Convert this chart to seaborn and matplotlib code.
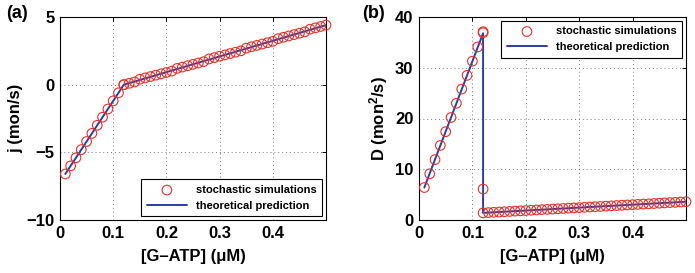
import matplotlib
matplotlib.use("Agg")
import matplotlib.pyplot as plt
import seaborn as sns
import numpy as np

# ---------------- data ----------------
x_left = [0.01, 0.02, 0.03, 0.04, 0.05, 0.06, 0.07, 0.08, 0.09, 0.10, 0.11, 0.12]
x_right = [0.12, 0.13, 0.14, 0.15, 0.16, 0.17, 0.18, 0.19, 0.20, 0.21, 0.22, 0.23,
           0.24, 0.25, 0.26, 0.27, 0.28, 0.29, 0.30, 0.31, 0.32, 0.33, 0.34, 0.35,
           0.36, 0.37, 0.38, 0.39, 0.40, 0.41, 0.42, 0.43, 0.44, 0.45, 0.46, 0.47,
           0.48, 0.49, 0.50]

# panel (a): flux j
j_sim_left = [-6.6, -6.0, -5.4, -4.8, -4.2, -3.6, -3.0, -2.4, -1.8, -1.2, -0.6, 0.0]
j_sim_right = [0.0, 0.1, 0.2, 0.4, 0.5, 0.6, 0.7, 0.8, 0.9, 1.0, 1.2, 1.3, 1.4,
               1.5, 1.6, 1.7, 1.9, 2.0, 2.1, 2.2, 2.3, 2.4, 2.5, 2.7, 2.8, 2.9,
               3.0, 3.1, 3.2, 3.4, 3.5, 3.6, 3.7, 3.8, 3.9, 4.1, 4.2, 4.3, 4.4]
j_theory_x = [0.01, 0.12, 0.50]
j_theory_y = [-6.6, 0.0, 4.4]

# panel (b): diffusion D
D_sim_left = [6.4, 9.1, 11.9, 14.7, 17.4, 20.2, 23.0, 25.8, 28.5, 31.3, 34.1, 36.9]
D_sim_extra_x = [0.12, 0.12]
D_sim_extra = [37.1, 6.1]
D_sim_right = [1.40, 1.46, 1.52, 1.57, 1.63, 1.69, 1.75, 1.81, 1.86, 1.92, 1.98,
               2.04, 2.09, 2.15, 2.21, 2.27, 2.33, 2.38, 2.44, 2.50, 2.56, 2.62,
               2.67, 2.73, 2.79, 2.85, 2.91, 2.96, 3.02, 3.08, 3.14, 3.19, 3.25,
               3.31, 3.37, 3.43, 3.48, 3.54, 3.60]
D_theory_x = [0.01, 0.12, 0.12, 0.50]
D_theory_y = [6.4, 36.8, 1.4, 3.6]

x_ticks = [0, 0.1, 0.2, 0.3, 0.4]
x_ticklabels = ["0", "0.1", "0.2", "0.3", "0.4"]
ja_ticks = [-10, -5, 0, 5]
Db_ticks = [0, 10, 20, 30, 40]

# ---------------- style ----------------
sns.set_style("white")
plt.rcParams['font.family'] = ['Liberation Sans', 'DejaVu Sans']
plt.rcParams['font.weight'] = 'bold'
plt.rcParams['mathtext.fontset'] = 'custom'
plt.rcParams['mathtext.rm'] = 'Liberation Sans:bold'
plt.rcParams['mathtext.it'] = 'Liberation Sans:bold'
plt.rcParams['mathtext.bf'] = 'Liberation Sans:bold'
for key in ('text.color', 'axes.labelcolor', 'xtick.color', 'ytick.color'):
    plt.rcParams[key] = 'black'

RED = '#e8302a'
BLUE = '#2b3da6'

fig = plt.figure(figsize=(6.95, 2.73), dpi=100)
axA = fig.add_axes([60/695, 53/273, 266/695, 203/273])
axB = fig.add_axes([419/695, 53/273, 267/695, 203/273])


def style_axes(ax):
    ax.set_xlim(0, 0.5)
    ax.set_xticks(x_ticks)
    ax.set_xticklabels(x_ticklabels)
    ax.grid(True, linestyle=(0, (1, 3)), color='#777777', linewidth=0.7)
    ax.tick_params(direction='in', top=True, right=True, length=3, width=0.7,
                   labelsize=12, pad=4, colors='black')
    for lab in ax.get_xticklabels() + ax.get_yticklabels():
        lab.set_fontweight('bold')
    for s in ax.spines.values():
        s.set_linewidth(0.8)
        s.set_color('black')
    ax.set_xlabel('[G\u2013ATP] (\u03bcM)', fontsize=12, fontweight='bold', labelpad=6)


def draw(ax, sx, sy, tx, ty):
    sns.lineplot(x=tx, y=ty, ax=ax, color=BLUE, linewidth=1.4, sort=False,
                 estimator=None, label='theoretical prediction', zorder=2)
    sns.scatterplot(x=sx, y=sy, ax=ax, marker='o', s=48, facecolors='none',
                    edgecolor=RED, linewidth=0.8, label='stochastic simulations',
                    zorder=3, clip_on=False)


# panel (a)
draw(axA, x_left + x_right, j_sim_left + j_sim_right, j_theory_x, j_theory_y)
axA.set_ylim(-10, 5)
axA.set_yticks(ja_ticks)
axA.set_yticklabels(['\u221210', '\u22125', '0', '5'])
style_axes(axA)
axA.set_ylabel('j (mon/s)', fontsize=12, fontweight='bold', labelpad=2)

# panel (b)
draw(axB, x_left + D_sim_extra_x + x_right, D_sim_left + D_sim_extra + D_sim_right,
     D_theory_x, D_theory_y)
axB.set_ylim(0, 40)
axB.set_yticks(Db_ticks)
style_axes(axB)
axB.set_ylabel('D (mon$^2$/s)', fontsize=12, fontweight='bold', labelpad=4)

for ax, loc in ((axA, 'lower right'), (axB, 'upper right')):
    h, l = ax.get_legend_handles_labels()
    order = [l.index('stochastic simulations'), l.index('theoretical prediction')]
    leg = ax.legend([h[i] for i in order], [l[i] for i in order], loc=loc,
                    fancybox=False, edgecolor='black', framealpha=1,
                    prop={'size': 8, 'weight': 'bold'}, handlelength=3.6,
                    handletextpad=0.8, borderaxespad=0.35, labelspacing=0.5,
                    borderpad=0.5)
    leg.get_frame().set_linewidth(0.8)
    leg.set_zorder(5)

fig.text(6/695, 1 - 13/273, '(a)', fontsize=13, fontweight='bold', va='center', ha='left')
fig.text(362/695, 1 - 13/273, '(b)', fontsize=13, fontweight='bold', va='center', ha='left')

fig.savefig('out.png', dpi=100)
